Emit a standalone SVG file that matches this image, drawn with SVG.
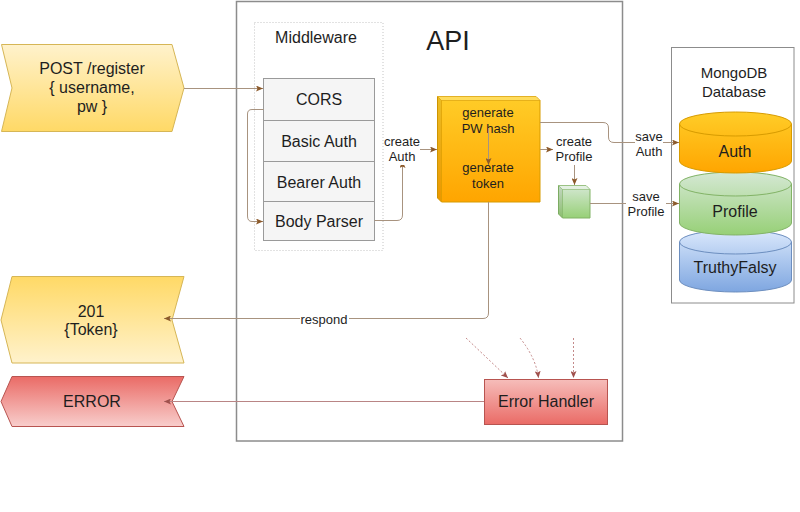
<svg xmlns="http://www.w3.org/2000/svg" width="800" height="512" viewBox="0 0 800 512">
  <style>
    text { font-family: "Liberation Sans", Arial, sans-serif; fill: #1e1e1e; text-anchor: middle; }
    .t16 { font-size: 16px; }
    .t13 { font-size: 13px; }
    .t15 { font-size: 15px; }
    .api { font-size: 27px; }
    .row { fill: #f5f5f5; stroke: #9a9a9a; stroke-width: 1; }
    .edge { fill: none; stroke: #a8937f; stroke-width: 1; }
    .edge-red { fill: none; stroke: #b98585; stroke-width: 1; }
    .edge-dash { fill: none; stroke: #c48a8a; stroke-width: 1; stroke-dasharray: 2 2; }
    .lblbg { fill: #ffffff; }
  </style>
  <defs>
    <marker id="arr" viewBox="0 0 7 6" refX="7" refY="3" markerWidth="7" markerHeight="6" markerUnits="userSpaceOnUse" orient="auto">
      <path d="M0,0 L7,3 L0,6 L1.5,3 Z" fill="#8c5a2b"/>
    </marker>
    <marker id="arr-red" viewBox="0 0 7 6" refX="7" refY="3" markerWidth="7" markerHeight="6" markerUnits="userSpaceOnUse" orient="auto">
      <path d="M0,0 L7,3 L0,6 L1.5,3 Z" fill="#a0504c"/>
    </marker>
    <linearGradient id="g-yellow-up" x1="0" y1="0" x2="0" y2="1">
      <stop offset="0" stop-color="#fff2cc"/>
      <stop offset="1" stop-color="#ffd966"/>
    </linearGradient>
    <linearGradient id="g-yellow-down" x1="0" y1="0" x2="0" y2="1">
      <stop offset="0" stop-color="#ffd966"/>
      <stop offset="1" stop-color="#fff2cc"/>
    </linearGradient>
    <linearGradient id="g-red-down" x1="0" y1="0" x2="0" y2="1">
      <stop offset="0" stop-color="#ea6b66"/>
      <stop offset="1" stop-color="#f8cecc"/>
    </linearGradient>
    <linearGradient id="g-red-up" x1="0" y1="0" x2="0" y2="1">
      <stop offset="0" stop-color="#f6bdba"/>
      <stop offset="1" stop-color="#ea6b66"/>
    </linearGradient>
    <linearGradient id="g-orange" x1="0" y1="0" x2="0" y2="1">
      <stop offset="0" stop-color="#ffcd28"/>
      <stop offset="1" stop-color="#ffa500"/>
    </linearGradient>
    <linearGradient id="g-green" x1="0" y1="0" x2="0" y2="1">
      <stop offset="0" stop-color="#d5e8d4"/>
      <stop offset="1" stop-color="#97d077"/>
    </linearGradient>
    <linearGradient id="g-blue" x1="0" y1="0" x2="0" y2="1">
      <stop offset="0" stop-color="#dae8fc"/>
      <stop offset="1" stop-color="#7ea6e0"/>
    </linearGradient>
  </defs>

  <rect width="800" height="512" fill="#ffffff"/>

  <!-- API container -->
  <g id="api">
    <rect x="236.5" y="1.5" width="386" height="439.5" fill="none" stroke="#8c8c8c" stroke-width="1.5"/>
    <text class="api" x="448" y="50">API</text>
  </g>

  <!-- Middleware group -->
  <g id="middleware">
    <rect x="254.5" y="22.5" width="128.5" height="228" fill="none" stroke="#c4c4c4" stroke-width="1" stroke-dasharray="1 2"/>
    <text class="t16" x="316" y="43">Middleware</text>
  </g>
  <g id="cors">
    <rect class="row" x="263.5" y="78.5" width="111" height="42"/>
    <text class="t16" x="319" y="105">CORS</text>
  </g>
  <g id="basic-auth">
    <rect class="row" x="263.5" y="120.5" width="111" height="41"/>
    <text class="t16" x="319" y="147">Basic Auth</text>
  </g>
  <g id="bearer-auth">
    <rect class="row" x="263.5" y="161.5" width="111" height="40"/>
    <text class="t16" x="319" y="188">Bearer Auth</text>
  </g>
  <g id="body-parser">
    <rect class="row" x="263.5" y="201.5" width="111" height="39"/>
    <text class="t16" x="319" y="227">Body Parser</text>
  </g>

  <!-- Request / response shapes -->
  <g id="post-register">
    <path d="M1.5,44.5 H172 L184,88 L172,131.5 H1.5 L12,88 Z" fill="url(#g-yellow-up)" stroke="#d6b656" stroke-width="1"/>
    <text class="t16" x="92" y="74">POST /register</text>
    <text class="t16" x="92" y="93">{ username,</text>
    <text class="t16" x="92" y="112">pw }</text>
  </g>
  <g id="response-201">
    <path d="M12,276.5 H184 L172,320 L184,363 H12 L1,320 Z" fill="url(#g-yellow-down)" stroke="#d6b656" stroke-width="1"/>
    <text class="t16" x="91" y="317">201</text>
    <text class="t16" x="91" y="335">{Token}</text>
  </g>
  <g id="response-error">
    <path d="M12,376.5 H184 L172,401.5 L184,426.5 H12 L1,401.5 Z" fill="url(#g-red-down)" stroke="#b85450" stroke-width="1"/>
    <text class="t16" x="92" y="407">ERROR</text>
  </g>

  <!-- Hash / token generator (cube) -->
  <g id="generator">
    <path d="M437.5,96.5 H536 L540,100.5 V202 H441.5 L437.5,198 Z" fill="url(#g-orange)" stroke="#d79b00" stroke-width="1"/>
    <path d="M437.5,96.5 H536 L540,100.5 H441.5 Z" fill="#ffe680" fill-opacity="0.6"/>
    <path d="M437.5,96.5 L441.5,100.5 V202 L437.5,198 Z" fill="#000000" fill-opacity="0.08"/>
    <path d="M437.5,96.5 L441.5,100.5 H540 M441.5,100.5 V202" fill="none" stroke="#d79b00" stroke-width="0.6"/>
    <text class="t13" x="488" y="117">generate</text>
    <text class="t13" x="488" y="133">PW hash</text>
    <text class="t13" x="488" y="172">generate</text>
    <text class="t13" x="488" y="188">token</text>
  </g>

  <!-- Profile object (small cube) -->
  <g id="profile-object">
    <path d="M558.5,185.5 H586 L590,189.5 V218 H562.5 L558.5,214 Z" fill="url(#g-green)" stroke="#82b366" stroke-width="1"/>
    <path d="M558.5,185.5 H586 L590,189.5 H562.5 Z" fill="#ffffff" fill-opacity="0.4"/>
    <path d="M558.5,185.5 L562.5,189.5 V218 L558.5,214 Z" fill="#000000" fill-opacity="0.08"/>
    <path d="M558.5,185.5 L562.5,189.5 H590 M562.5,189.5 V218" fill="none" stroke="#82b366" stroke-width="0.6"/>
  </g>

  <!-- Error handler -->
  <g id="error-handler">
    <rect x="484.5" y="379.5" width="123" height="45" fill="url(#g-red-up)" stroke="#b85450" stroke-width="1"/>
    <text class="t16" x="546" y="407">Error Handler</text>
  </g>

  <!-- Database -->
  <g id="mongodb">
    <rect x="671.5" y="47.5" width="122.5" height="255.5" fill="#ffffff" stroke="#8c8c8c" stroke-width="1"/>
    <text class="t15" x="734" y="78">MongoDB</text>
    <text class="t15" x="734" y="97">Database</text>
  </g>
  <g id="db-truthyfalsy">
    <path d="M679.5,242 V280 A56,12 0 0 0 791.5,280 V242 A56,12 0 0 0 679.5,242 Z" fill="url(#g-blue)" stroke="#6c8ebf" stroke-width="1"/>
    <path d="M679.5,242 A56,12 0 0 0 791.5,242" fill="none" stroke="#6c8ebf" stroke-width="1"/>
    <text class="t16" x="735" y="273">TruthyFalsy</text>
  </g>
  <g id="db-profile">
    <path d="M679.5,184 V223 A56,12 0 0 0 791.5,223 V184 A56,12 0 0 0 679.5,184 Z" fill="url(#g-green)" stroke="#82b366" stroke-width="1"/>
    <path d="M679.5,184 A56,12 0 0 0 791.5,184" fill="none" stroke="#82b366" stroke-width="1"/>
    <text class="t16" x="735" y="217">Profile</text>
  </g>
  <g id="db-auth">
    <path d="M679.5,124 V161 A56,12 0 0 0 791.5,161 V124 A56,12 0 0 0 679.5,124 Z" fill="url(#g-orange)" stroke="#d79b00" stroke-width="1"/>
    <path d="M679.5,124 A56,12 0 0 0 791.5,124" fill="none" stroke="#d79b00" stroke-width="1"/>
    <text class="t16" x="735" y="157">Auth</text>
  </g>

  <!-- Connectors -->
  <g id="connectors">
    <path class="edge" d="M184,88.5 H263" marker-end="url(#arr)"/>
    <path class="edge" d="M263.5,109.5 H252 Q247.5,109.5 247.5,114 V216 Q247.5,221.5 252,221.5 H263" marker-end="url(#arr)"/>
    <path class="edge" d="M374.5,220.5 H397 Q402.5,220.5 402.5,215 V161" marker-end="url(#arr)"/>
    <path class="edge" d="M420,149.5 H437" marker-end="url(#arr)"/>
    <path class="edge" d="M488.5,128 V165" marker-end="url(#arr)"/>
    <path class="edge" d="M540,149.5 H553" marker-end="url(#arr)"/>
    <path class="edge" d="M574.5,164 V185" marker-end="url(#arr)"/>
    <path class="edge" d="M540,122.5 H603 Q608.5,122.5 608.5,128 V137 Q608.5,142.5 614,142.5 H679" marker-end="url(#arr)"/>
    <path class="edge" d="M590,203.5 H679" marker-end="url(#arr)"/>
    <path class="edge" d="M488.5,202 V313 Q488.5,318.5 483,318.5 H164" marker-end="url(#arr)"/>
    <path class="edge-red" d="M484,401.5 H164" marker-end="url(#arr-red)"/>
    <path class="edge-dash" d="M466,338 L508,378" marker-end="url(#arr-red)"/>
    <path class="edge-dash" d="M520,338 Q536,358 538.5,378" marker-end="url(#arr-red)"/>
    <path class="edge-dash" d="M573.5,338 V378" marker-end="url(#arr-red)"/>

    <!-- edge labels -->
    <rect class="lblbg" x="384" y="134" width="36" height="31"/>
    <text class="t13" x="402" y="146">create</text>
    <text class="t13" x="402" y="161">Auth</text>
    <rect class="lblbg" x="554" y="134" width="40" height="31"/>
    <text class="t13" x="574" y="146">create</text>
    <text class="t13" x="574" y="161">Profile</text>
    <rect class="lblbg" x="635" y="131" width="28" height="27"/>
    <text class="t13" x="649" y="141">save</text>
    <text class="t13" x="649" y="156">Auth</text>
    <rect class="lblbg" x="626" y="190" width="40" height="28"/>
    <text class="t13" x="646" y="201">save</text>
    <text class="t13" x="646" y="216">Profile</text>
    <rect class="lblbg" x="300" y="312" width="49" height="13"/>
    <text class="t13" x="324" y="324">respond</text>
  </g>
</svg>
